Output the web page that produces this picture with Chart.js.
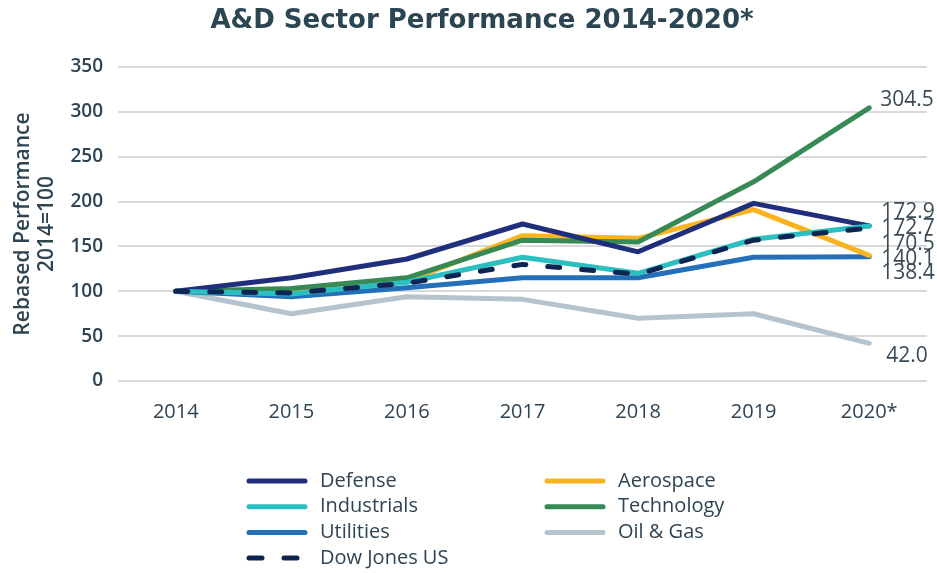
<!DOCTYPE html>
<html>
<head>
<meta charset="utf-8">
<script src="https://cdn.jsdelivr.net/npm/chart.js@4.4.1/dist/chart.umd.min.js"></script>
<style>
  html, body { margin: 0; padding: 0; background: #ffffff; }
  #wrap { position: relative; width: 937px; height: 573px; }
</style>
</head>
<body>
<div id="wrap"><canvas id="c"></canvas></div>
<script>
// ---- data ----
const categories = ['2014', '2015', '2016', '2017', '2018', '2019', '2020*'];
const defense     = [100, 115, 136, 175, 144, 198, 172.9];
const aerospace   = [100, 100, 111, 162, 159, 191, 140.1];
const industrials = [100, 97, 110, 138, 120, 158, 172.7];
const technology  = [100, 103, 115, 157, 155, 222, 304.5];
const utilities   = [100, 94, 104, 115, 115, 138, 138.4];
const oilGas      = [100, 75, 94, 91, 70, 75, 42.0];
const dowJones    = [100, 98, 109, 130, 119, 157, 170.5];
const yTicks = [0, 50, 100, 150, 200, 250, 300, 350];

const TEXT = '#2f4452';
const FONT = "'Open Sans', 'DejaVu Sans', sans-serif";

function ds(label, data, color, order, extra) {
  return Object.assign({
    label, data,
    borderColor: color, backgroundColor: color,
    borderWidth: 5, pointRadius: 0, pointHoverRadius: 0,
    tension: 0, fill: false, order,
    borderCapStyle: 'round', borderJoinStyle: 'round'
  }, extra || {});
}

const datasets = [
  ds('Defense', defense, '#1f2f7b', 3, { endDy: -14, endDx: 12 }),
  ds('Aerospace', aerospace, '#f9b41f', 5, { endDy: 4, endDx: 12 }),
  ds('Industrials', industrials, '#2bbfc1', 2, { endDy: 2, endDx: 12 }),
  ds('Technology', technology, '#378a55', 4, { endDy: -8, endDx: 11 }),
  ds('Utilities', utilities, '#2370b8', 6, { endDy: 16, endDx: 12 }),
  ds('Oil & Gas', oilGas, '#b5c3cc', 7, { endDy: 13, endDx: 17 }),
  ds('Dow Jones US', dowJones, '#0d2553', 1, { endDy: 16, endDx: 12, borderDash: [12, 22] })
];

const titlePlugin = {
  id: 'topTitle',
  afterDraw(chart) {
    const ctx = chart.ctx;
    ctx.save();
    ctx.fillStyle = '#2b4552';
    ctx.font = "700 26px 'DejaVu Sans', sans-serif";
    ctx.textAlign = 'center';
    ctx.textBaseline = 'middle';
    ctx.fillText('A&D Sector Performance 2014-2020*', 482, 21);
    ctx.restore();
  }
};

const endLabelPlugin = {
  id: 'endLabels',
  afterDatasetsDraw(chart) {
    const ctx = chart.ctx;
    ctx.save();
    ctx.fillStyle = '#3b4b56';
    ctx.font = "400 21px " + FONT;
    ctx.textAlign = 'left';
    ctx.textBaseline = 'middle';
    chart.data.datasets.forEach((d, i) => {
      const meta = chart.getDatasetMeta(i);
      const pt = meta.data[meta.data.length - 1];
      const v = d.data[d.data.length - 1];
      ctx.fillText(v.toFixed(1), pt.x + d.endDx, pt.y + d.endDy);
    });
    ctx.restore();
  }
};

const legendPlugin = {
  id: 'gridLegend',
  afterDraw(chart) {
    const ctx = chart.ctx;
    const colX = [247, 545];
    const rowY0 = 481, rowH = 25.7, lineW = 58, textGap = 15;
    ctx.save();
    ctx.font = "400 20px " + FONT;
    ctx.textBaseline = 'middle';
    ctx.textAlign = 'left';
    chart.data.datasets.forEach((d, i) => {
      const col = i % 2, row = Math.floor(i / 2);
      const x = colX[col], y = rowY0 + row * rowH;
      ctx.strokeStyle = d.borderColor;
      ctx.lineWidth = 5;
      ctx.lineCap = 'round';
      ctx.setLineDash(d.borderDash ? [13, 22] : []);
      ctx.beginPath();
      ctx.moveTo(x + 2, y);
      ctx.lineTo(x + lineW, y);
      ctx.stroke();
      ctx.setLineDash([]);
      ctx.fillStyle = TEXT;
      ctx.fillText(d.label, x + lineW + textGap, y);
    });
    ctx.restore();
  }
};

new Chart(document.getElementById('c'), {
  type: 'line',
  data: { labels: categories, datasets },
  plugins: [titlePlugin, endLabelPlugin, legendPlugin],
  options: {
    responsive: true,
    maintainAspectRatio: false,
    animation: false,
    layout: { padding: { top: 67, right: 10, bottom: 142, left: 0 } },
    plugins: { legend: { display: false }, title: { display: false }, tooltip: { enabled: false } },
    scales: {
      x: {
        offset: true,
        grid: { display: false, drawTicks: false },
        border: { display: false },
        ticks: { color: TEXT, font: { family: FONT, size: 20, weight: '400' }, padding: 19 },
        afterFit(s) { s.height = 50; }
      },
      y: {
        min: 0, max: 350,
        afterBuildTicks(s) { s.ticks = yTicks.map(v => ({ value: v })); },
        grid: { color: '#d9d9d9', lineWidth: 2, drawTicks: false },
        border: { display: false },
        ticks: { color: TEXT, font: { family: FONT, size: 19, weight: '600' }, padding: 15 },
        title: {
          display: true,
          text: ['Rebased Performance', '2014=100'],
          color: TEXT,
          font: { family: FONT, size: 21, weight: '600', lineHeight: 1.15 },
          padding: { top: 11, bottom: 0 }
        },
        afterFit(s) { s.width = 118; }
      }
    }
  }
});
</script>
</body>
</html>
